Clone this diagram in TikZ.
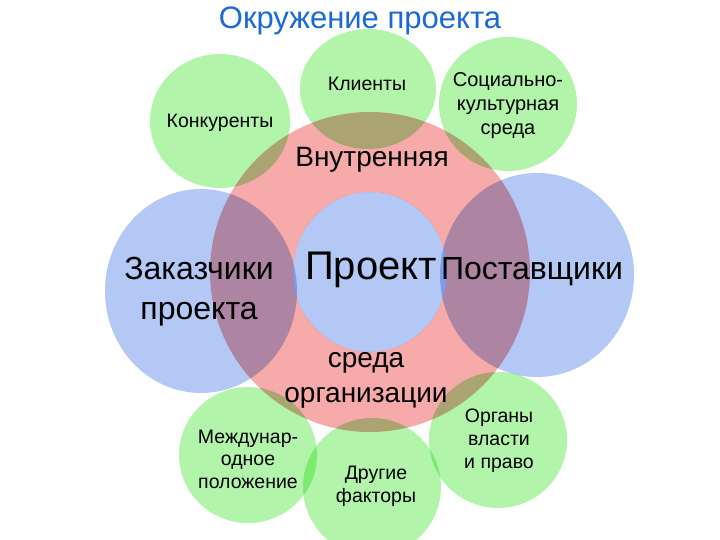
\documentclass[tikz,border=0pt]{standalone}
\usepackage{fontspec}
\setmainfont{Liberation Sans}
\begin{document}
\begin{tikzpicture}[x=1pt,y=-1pt,
  grn/.style={fill={rgb,255:red,178;green,245;blue,170}},
  blu/.style={fill={rgb,255:red,180;green,200;blue,245}},
  pnk/.style={fill={rgb,255:red,246;green,170;blue,170}},
  lbl/.style={font=\fontsize{19.5}{23}\selectfont, align=center, text=black, inner sep=0pt},
  big/.style={font=\fontsize{32}{40}\selectfont, align=center, text=black, inner sep=0pt}]
\useasboundingbox (0,0) rectangle (720,540);
\fill[white] (0,0) rectangle (720,540);
\begin{scope}[blend group=multiply]
  % pink ring
  \path[pnk, even odd rule] (370,272) circle[radius=160pt] (370,272) ellipse[x radius=77pt, y radius=80pt];
  % blue circles
  \path[blu] (370,272) ellipse[x radius=77pt, y radius=80pt];
  \path[blu] (201,291) ellipse[x radius=96pt, y radius=102pt];
  \path[blu] (537,275) ellipse[x radius=97pt, y radius=102pt];
  % green circles
  \path[grn] (368,89) ellipse[x radius=68pt, y radius=60pt];
  \path[grn] (220,121) ellipse[x radius=70pt, y radius=67pt];
  \path[grn] (508,104) ellipse[x radius=69pt, y radius=67pt];
  \path[grn] (248,455) ellipse[x radius=69pt, y radius=68pt];
  \path[grn] (372,487) ellipse[x radius=69pt, y radius=69pt];
  \path[grn] (498,440) ellipse[x radius=69pt, y radius=68pt];
\end{scope}
\node[inner sep=0pt, text={rgb,255:red,25;green,105;blue,215}, font=\fontsize{31}{34}\selectfont] (title) at (360,21) {Окружение проекта};
\node[lbl] (klient) at (367,84) {Клиенты};
\node[lbl] (konk) at (220,123) {Конкуренты};
\node[lbl, font=\fontsize{20}{24}\selectfont] (soc) at (508,106) {Социально-\\культурная\\среда};
\node[lbl, font=\fontsize{28}{32}\selectfont] (vnutr) at (372,160) {Внутренняя};
\node[inner sep=0pt, font=\fontsize{40}{44}\selectfont] (proekt) at (371,270) {Проект};
\node[big] (zak) at (199,292) {Заказчики\\проекта};
\node[big] (post) at (532,272) {Поставщики};
\node[big, font=\fontsize{28}{35}\selectfont] (sreda) at (366,380) {среда\\организации};
\node[lbl, font=\fontsize{19.5}{22.5}\selectfont] (mezh) at (248,459) {Междунар-\\одное\\положение};
\node[lbl] (drug) at (376,486) {Другие\\факторы};
\node[lbl] (org) at (499,441) {Органы\\власти\\и право};
\end{tikzpicture}
\end{document}
